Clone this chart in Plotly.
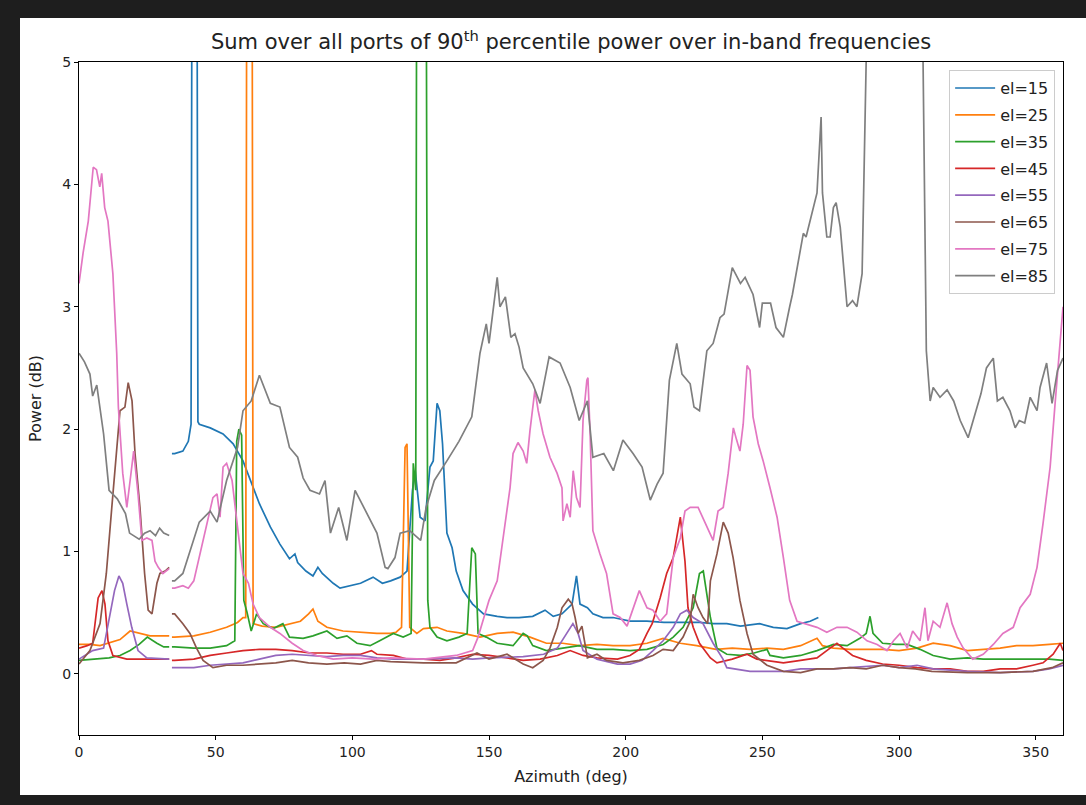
import plotly.graph_objects as go

# ---------------- data (azimuth in deg, power in dB); None marks the data gap ----------------
AZ_15 = [34, 35, 38, 40, 41, 41.5, 43, 43.5, 44, 48, 52.7, 56.4, 60, 63.8, 66, 70, 73.5, 77, 79, 80, 83,
         85.6, 87.4, 89, 93, 95.5, 99, 103, 107.6, 111, 114, 117.5, 120, 122, 123, 124.8, 126.6, 128.4,
         129.6, 131, 132, 133, 134.6, 136.5, 138, 140.5, 144, 148, 153, 156.6, 161, 166, 170.5, 173.5,
         176.7, 180.4, 182, 183.3, 186, 188, 191.7, 195.4, 201.6, 207.8, 214, 220, 227, 232, 237, 242,
         249, 254, 259, 264, 267.5, 270.5]
P_15 = [1.8, 1.8, 1.82, 1.9, 2.04, 8, 8, 2.06, 2.04, 2.01, 1.96, 1.88, 1.74, 1.52, 1.39, 1.2, 1.06, 0.94,
        0.98, 0.91, 0.84, 0.8, 0.87, 0.82, 0.74, 0.7, 0.72, 0.74, 0.79, 0.74, 0.76, 0.79, 0.84, 1.5, 1.66,
        1.28, 1.25, 1.69, 1.74, 2.21, 2.15, 1.88, 1.15, 1.03, 0.84, 0.68, 0.57, 0.49, 0.47, 0.46, 0.46,
        0.47, 0.52, 0.47, 0.49, 0.57, 0.8, 0.57, 0.54, 0.49, 0.46, 0.46, 0.43, 0.43, 0.42, 0.42, 0.42,
        0.41, 0.41, 0.39, 0.41, 0.38, 0.37, 0.41, 0.43, 0.46]

AZ_25 = [0, 4, 7.7, 11, 15, 18.7, 22, 26, 33, 33.5, 34, 35, 42, 48, 54, 58, 60, 61, 61.5, 63.2, 63.7, 67,
         72, 77, 81, 84, 85.6, 87.4, 90.7, 96.6, 103, 109, 114, 116, 118, 119.3, 120, 121, 123.6, 126,
         131, 134.6, 140.5, 146.7, 153, 158.8, 165, 171, 177, 183, 189.5, 195.4, 201.6, 207.8, 213.7, 220,
         226, 233, 239, 245.5, 251.7, 257.7, 264, 270, 272, 276, 282, 288, 294, 300, 306.6, 312.5, 318.7,
         325, 330.8, 337, 343, 349, 355, 360]
P_25 = [0.24, 0.24, 0.23, 0.25, 0.28, 0.35, 0.33, 0.31, 0.31, None, 0.3, 0.3, 0.31, 0.34, 0.38, 0.42, 0.46,
        0.46, 8, 8, 0.41, 0.39, 0.38, 0.41, 0.43, 0.49, 0.53, 0.43, 0.38, 0.35, 0.34, 0.33, 0.33, 0.34, 0.38,
        1.85, 1.88, 0.38, 0.33, 0.37, 0.38, 0.35, 0.33, 0.3, 0.33, 0.34, 0.3, 0.25, 0.25, 0.23, 0.24, 0.23,
        0.23, 0.25, 0.29, 0.25, 0.23, 0.2, 0.21, 0.2, 0.21, 0.2, 0.23, 0.29, 0.23, 0.21, 0.2, 0.2, 0.2,
        0.19, 0.21, 0.25, 0.23, 0.19, 0.2, 0.21, 0.23, 0.23, 0.24, 0.25]

AZ_35 = [0, 5, 11, 15, 18.7, 22, 25, 28.5, 31, 33, 33.5, 34, 35, 42, 48, 54, 57, 57.7, 58.5, 59.5, 60.3,
         61.5, 63, 65, 67.4, 71, 74.6, 77, 82, 85.6, 90.7, 94.4, 98, 101.7, 106.5, 110, 115, 118.6, 121.5,
         122.3, 123.2, 123.7, 126.8, 127.6, 128.4, 131, 134.6, 139, 142, 143.7, 145, 146, 149, 153, 158.8,
         162.5, 164, 166, 171, 177, 183, 189.5, 195.4, 201.6, 207.8, 213.7, 217.4, 221, 224.7, 227, 228.4,
         231, 233.4, 237, 242, 247, 251.7, 252.8, 257.7, 264, 270, 276, 281, 285.7, 288, 289.4, 290.5, 294,
         299, 303, 307.7, 312.5, 318.7, 325, 330.8, 337, 343, 349, 355, 360]
P_35 = [0.11, 0.12, 0.13, 0.15, 0.19, 0.24, 0.3, 0.25, 0.22, 0.22, None, 0.22, 0.22, 0.21, 0.21, 0.23, 0.27,
        1.9, 2.0, 1.95, 0.6, 0.5, 0.35, 0.49, 0.41, 0.37, 0.41, 0.3, 0.29, 0.31, 0.35, 0.29, 0.31, 0.25,
        0.23, 0.27, 0.33, 0.3, 0.33, 1.72, 1.5, 8, 8, 0.6, 0.38, 0.3, 0.27, 0.3, 0.33, 1.03, 0.98, 0.33,
        0.3, 0.25, 0.23, 0.33, 0.31, 0.23, 0.19, 0.21, 0.23, 0.2, 0.2, 0.19, 0.2, 0.24, 0.3, 0.38, 0.54,
        0.82, 0.84, 0.46, 0.21, 0.16, 0.15, 0.17, 0.2, 0.15, 0.13, 0.15, 0.19, 0.24, 0.23, 0.29, 0.33, 0.47,
        0.33, 0.25, 0.24, 0.24, 0.2, 0.15, 0.12, 0.13, 0.12, 0.12, 0.12, 0.12, 0.12, 0.11]

AZ_45 = [0, 3, 5, 7, 8.4, 9.5, 10.6, 12.4, 17.5, 23.4, 33, 33.5, 34, 35, 42, 48, 54, 60, 66, 72, 78, 84.5,
         90.7, 96.6, 103, 107, 109, 115, 120, 126, 132, 138, 144, 150, 156.6, 162.5, 168.7, 175, 179.7,
         184.4, 189.5, 197, 201.6, 205, 207.8, 209.7, 212.6, 215, 217.4, 220, 221.7, 222.8, 224.7, 227,
         231, 233.4, 239, 244.4, 248, 251.7, 257.7, 264, 270, 274.8, 277.3, 279.5, 283, 288, 294, 300,
         306.6, 312.5, 318.7, 325, 330.8, 337, 343, 349, 352.7, 356.4, 359, 360]
P_45 = [0.21, 0.23, 0.25, 0.62, 0.68, 0.57, 0.27, 0.15, 0.12, 0.12, 0.12, None, 0.11, 0.11, 0.12, 0.15,
        0.17, 0.19, 0.2, 0.2, 0.19, 0.17, 0.17, 0.16, 0.16, 0.19, 0.16, 0.15, 0.12, 0.12, 0.11, 0.13,
        0.16, 0.15, 0.13, 0.11, 0.12, 0.15, 0.19, 0.15, 0.13, 0.12, 0.15, 0.2, 0.33, 0.41, 0.62, 0.82,
        0.95, 1.28, 0.92, 0.54, 0.38, 0.25, 0.13, 0.09, 0.12, 0.16, 0.12, 0.11, 0.09, 0.11, 0.13, 0.21,
        0.25, 0.21, 0.15, 0.11, 0.08, 0.07, 0.05, 0.04, 0.04, 0.02, 0.02, 0.04, 0.04, 0.07, 0.09, 0.16,
        0.25, 0.19]

AZ_55 = [0, 5, 9, 11, 13, 14.6, 16, 17.5, 19.3, 21.6, 24.8, 33, 33.5, 34, 35, 42, 48, 54, 60, 66, 72, 78,
         84.5, 90.7, 96.6, 103, 109, 115, 126, 138, 144, 150, 162.5, 170, 175, 178.5, 180.7, 182.6, 184.4,
         189.5, 197, 201.6, 206, 210, 213.7, 217.4, 220, 222.4, 224.7, 228.3, 232, 235.6, 237, 245.5,
         251.7, 258, 264, 270, 276, 282, 288, 294, 300, 306.6, 312.5, 318.7, 325, 337, 349, 355, 360]
P_55 = [0.12, 0.19, 0.21, 0.43, 0.68, 0.8, 0.74, 0.57, 0.38, 0.19, 0.13, 0.12, None, 0.05, 0.05, 0.05,
        0.07, 0.08, 0.09, 0.12, 0.15, 0.16, 0.15, 0.14, 0.15, 0.15, 0.13, 0.12, 0.12, 0.13, 0.12, 0.13,
        0.14, 0.16, 0.21, 0.33, 0.41, 0.33, 0.19, 0.12, 0.08, 0.08, 0.11, 0.19, 0.27, 0.38, 0.49, 0.52,
        0.46, 0.41, 0.25, 0.12, 0.05, 0.02, 0.02, 0.02, 0.04, 0.04, 0.04, 0.05, 0.06, 0.07, 0.05, 0.07,
        0.04, 0.03, 0.02, 0.01, 0.02, 0.04, 0.07]

AZ_65 = [0, 4, 7.7, 10, 12, 14, 15, 16.8, 18, 19.4, 20.5, 22.3, 24, 25.3, 26.7, 28.5, 29.6, 31.5, 33, 33.5,
         34, 35, 38, 40.6, 43, 45.4, 49, 54, 60, 66, 72, 78, 84, 90.7, 97, 103, 109, 114, 126, 138, 145.6,
         150, 156.6, 162.5, 166, 169.8, 172.3, 175, 176.7, 179, 180.4, 181.5, 182.6, 184, 186, 189.5, 193,
         199, 205, 210, 213.7, 217.4, 221, 223.6, 224.7, 226.5, 228.3, 230, 231, 233.4, 235.7, 237.5,
         239.3, 241.8, 244.4, 246.6, 251.7, 257.7, 264, 270, 276, 282, 288, 294, 300, 306, 312, 325, 337,
         349, 356, 360]
P_65 = [0.08, 0.19, 0.41, 0.82, 1.36, 1.9, 2.15, 2.18, 2.38, 2.23, 1.8, 1.36, 0.82, 0.52, 0.49, 0.74, 0.82,
        0.84, 0.87, None, 0.49, 0.49, 0.41, 0.33, 0.21, 0.11, 0.05, 0.07, 0.07, 0.08, 0.09, 0.11, 0.09,
        0.08, 0.09, 0.08, 0.11, 0.1, 0.09, 0.09, 0.17, 0.12, 0.16, 0.08, 0.05, 0.11, 0.21, 0.38, 0.54,
        0.61, 0.57, 0.46, 0.33, 0.39, 0.13, 0.16, 0.11, 0.09, 0.11, 0.15, 0.2, 0.19, 0.3, 0.43, 0.65, 0.54,
        0.46, 0.41, 0.76, 0.98, 1.24, 1.15, 0.95, 0.6, 0.33, 0.16, 0.07, 0.02, 0.01, 0.04, 0.04, 0.05,
        0.04, 0.07, 0.05, 0.04, 0.02, 0.01, 0.01, 0.02, 0.05, 0.09]

AZ_75 = [0, 1.5, 3.4, 5.2, 6.4, 7.6, 8.3, 9.4, 10.6, 12.4, 13.8, 14.4, 16, 17.5, 18.7, 20, 21.6, 23, 24.8,
         26.7, 27.8, 29, 30.7, 32, 33, 33.5, 34, 35, 38, 40, 42, 44, 46.7, 49, 50.5, 51.6, 52.7, 54, 56,
         57.8, 60, 62, 63.7, 66, 70, 73.5, 78, 82, 87, 93, 100, 107.6, 114, 126, 138, 144, 146, 148, 150,
         153, 155, 157.7, 158.8, 160.6, 162.5, 163.8, 165, 166.8, 168, 169.8, 172.3, 174.9, 176.7, 177.1,
         178.5, 179.7, 180.8, 182, 183.3, 184.4, 185.8, 186.2, 187, 188, 190.6, 193, 195.4, 198, 200.5,
         202.7, 205, 207.8, 210, 212.6, 215, 217.4, 220, 221.7, 223.6, 226.5, 229.7, 232, 233.8, 235.7,
         237.5, 239.4, 240.6, 241.8, 243, 244.4, 245.5, 246.6, 248.5, 250.3, 252.8, 255.4, 257.7, 260,
         262.7, 266, 270, 273.6, 277.3, 281, 284.6, 288.3, 292, 295.6, 298, 300.4, 303, 305, 307.7, 309.5,
         310.6, 312.5, 315, 317.6, 319.4, 321.3, 323.5, 327, 330.8, 334.5, 338, 341.8, 344.3, 348, 350.5,
         352.7, 355.3, 357, 358.3, 360]
P_75 = [3.19, 3.44, 3.7, 4.14, 4.12, 3.98, 4.09, 3.81, 3.7, 3.27, 2.62, 2.18, 1.64, 1.36, 1.58, 1.82, 1.47,
        1.09, 1.11, 1.09, 0.92, 0.87, 0.82, 0.84, 0.86, None, 0.7, 0.7, 0.72, 0.7, 0.76, 0.95, 1.2, 1.44,
        1.47, 1.28, 1.69, 1.72, 1.58, 1.23, 0.82, 0.74, 0.57, 0.46, 0.38, 0.33, 0.25, 0.19, 0.15, 0.12,
        0.13, 0.12, 0.13, 0.12, 0.15, 0.19, 0.3, 0.45, 0.6, 0.76, 1.09, 1.52, 1.8, 1.89, 1.82, 1.72, 1.99,
        2.32, 2.15, 1.96, 1.77, 1.64, 1.52, 1.25, 1.39, 1.28, 1.66, 1.44, 1.36, 2.07, 2.4, 2.42, 1.96,
        1.17, 0.98, 0.82, 0.49, 0.46, 0.39, 0.54, 0.68, 0.54, 0.52, 0.43, 0.49, 0.95, 1.11, 1.33, 1.36,
        1.36, 1.2, 1.09, 1.33, 1.36, 1.64, 2.01, 1.91, 1.82, 2.04, 2.52, 2.48, 2.1, 1.88, 1.74, 1.52, 1.28,
        0.95, 0.6, 0.43, 0.41, 0.38, 0.34, 0.38, 0.38, 0.34, 0.27, 0.24, 0.19, 0.27, 0.33, 0.21, 0.35,
        0.27, 0.54, 0.27, 0.43, 0.38, 0.58, 0.41, 0.3, 0.21, 0.12, 0.16, 0.24, 0.33, 0.38, 0.54, 0.65,
        0.87, 1.23, 1.69, 2.18, 2.56, 3.0]

AZ_85 = [0, 2, 4, 5, 6.5, 9, 11, 14, 17, 18.5, 22, 24, 26, 28, 29.5, 31, 33, 33.5, 34, 35, 38, 40.6, 44, 48,
         50.5, 54, 58, 60, 63, 66, 70, 73.5, 77, 80, 82, 84.5, 88, 90, 92, 95, 98, 101, 105, 109, 112,
         113, 115.6, 117.5, 121, 125, 127, 130, 134.6, 139, 143.7, 146.7, 149, 150, 153, 154, 156, 158,
         159.5, 161, 162.5, 166, 168.7, 172, 176, 179.7, 183, 186, 188, 192, 195.5, 199, 202.7, 206, 209,
         211.5, 213.7, 216, 218.7, 220.6, 223.6, 225, 227, 229.7, 232, 234.5, 236, 239, 242, 243.7, 246.6,
         249, 250, 253, 255, 257.7, 260, 261, 265, 266, 270, 271.5, 272, 273.6, 274.8, 276, 277, 278.5,
         281, 283, 284.6, 286.5, 288.5, 292, 300, 306, 308.5, 310, 311.4, 312.5, 315, 317.6, 320, 322.4,
         325.3, 328, 330, 332, 334.5, 336, 338, 340.6, 342.5, 344, 346, 348, 350.5, 351.6, 354, 356, 358,
         360]
P_85 = [2.62, 2.55, 2.45, 2.27, 2.36, 1.96, 1.5, 1.43, 1.31, 1.15, 1.1, 1.15, 1.17, 1.13, 1.19, 1.15, 1.13,
        None, 0.76, 0.76, 0.82, 1.0, 1.24, 1.33, 1.24, 1.58, 1.85, 2.15, 2.23, 2.44, 2.21, 2.18, 1.85,
        1.77, 1.6, 1.5, 1.47, 1.58, 1.15, 1.36, 1.09, 1.5, 1.33, 1.15, 0.87, 0.86, 0.95, 1.15, 1.17, 1.09,
        1.36, 1.58, 1.74, 1.9, 2.1, 2.62, 2.86, 2.7, 3.24, 3.0, 3.08, 2.75, 2.78, 2.67, 2.5, 2.37, 2.21,
        2.59, 2.54, 2.34, 2.07, 2.23, 1.77, 1.8, 1.66, 1.91, 1.8, 1.69, 1.42, 1.55, 1.64, 2.4, 2.7, 2.45,
        2.37, 2.18, 2.15, 2.64, 2.7, 2.91, 2.94, 3.32, 3.19, 3.24, 3.1, 2.83, 3.03, 3.03, 2.83, 2.75, 3.0,
        3.1, 3.6, 3.57, 3.93, 4.55, 3.93, 3.57, 3.57, 3.81, 3.85, 3.65, 3.0, 3.05, 3.0, 3.27, 5.6, 7.5,
        8.0, 7.5, 5.6, 2.64, 2.23, 2.34, 2.26, 2.32, 2.23, 2.07, 1.93, 2.13, 2.29, 2.5, 2.58, 2.23, 2.26,
        2.15, 2.01, 2.07, 2.05, 2.26, 2.15, 2.34, 2.54, 2.21, 2.48, 2.58]

SERIES = [
    ("el=15", AZ_15, P_15, "#1f77b4"),
    ("el=25", AZ_25, P_25, "#ff7f0e"),
    ("el=35", AZ_35, P_35, "#2ca02c"),
    ("el=45", AZ_45, P_45, "#d62728"),
    ("el=55", AZ_55, P_55, "#9467bd"),
    ("el=65", AZ_65, P_65, "#8c564b"),
    ("el=75", AZ_75, P_75, "#e377c2"),
    ("el=85", AZ_85, P_85, "#7f7f7f"),
]

X_TICKS = [0, 50, 100, 150, 200, 250, 300, 350]
Y_TICKS = [0, 1, 2, 3, 4, 5]

FONT = "DejaVu Sans"

fig = go.Figure()
for name, az, p, col in SERIES:
    fig.add_trace(go.Scatter(x=az, y=p, mode="lines", name=name, legendgroup=name,
                             line=dict(color=col, width=1.7), connectgaps=False))

axis_common = dict(showline=True, linecolor="black", linewidth=1, mirror=True, ticks="outside",
                   ticklen=4, tickcolor="black", showgrid=False, zeroline=False,
                   tickfont=dict(family=FONT, size=14, color="#222"))

fig.update_layout(
    width=1086, height=805,
    paper_bgcolor="#1e1e1e", plot_bgcolor="white",
    margin=dict(l=79, r=23, t=62, b=70),
    font=dict(family=FONT, color="#222"),
    title=dict(text="Sum over all ports of 90<sup>th</sup> percentile power over in-band frequencies",
               x=0.5, xref="paper", xanchor="center", y=1 - 42 / 805, yanchor="middle",
               font=dict(family=FONT, size=21, color="#222")),
    xaxis=dict(range=[0, 360], tickvals=X_TICKS,
               title=dict(text="Azimuth (deg)", standoff=12, font=dict(family=FONT, size=16, color="#222")),
               **axis_common),
    yaxis=dict(range=[-0.5, 5], tickvals=Y_TICKS,
               title=dict(text="Power (dB)", standoff=16, font=dict(family=FONT, size=16, color="#222")),
               **axis_common),
    legend=dict(x=0.992, y=0.988, xanchor="right", yanchor="top", bgcolor="rgba(255,255,255,0.85)",
                bordercolor="#cccccc", borderwidth=1, font=dict(family=FONT, size=16, color="#222"),
                tracegroupgap=3, itemwidth=40),
    showlegend=True,
    shapes=[dict(type="rect", xref="paper", yref="paper", x0=-59 / 984, x1=1017 / 984,
                 y0=-60 / 673, y1=717 / 673, fillcolor="white", line=dict(width=0), layer="below")],
)

fig.write_html("out.html")
